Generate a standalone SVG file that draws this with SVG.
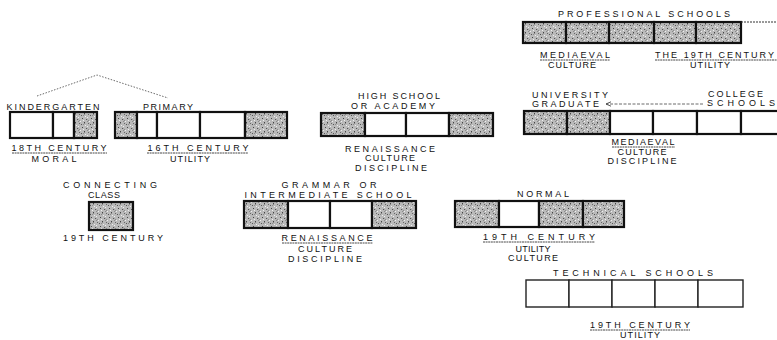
<svg xmlns="http://www.w3.org/2000/svg" width="777" height="340" viewBox="0 0 777 340">
<style>
text{font-family:"Liberation Sans",Arial,sans-serif;font-size:9px;fill:#111;text-anchor:middle}
.st{text-anchor:start}
.s{fill:url(#stip);stroke:#111;stroke-width:2.2}
.w{fill:#fff;stroke:#111;stroke-width:2.2}
.t{fill:#fff;stroke:#222;stroke-width:1.4}
.ul{stroke:#333;stroke-width:0.9;stroke-dasharray:2 0.6}
.dot{stroke:#444;stroke-width:0.8;stroke-dasharray:1.5 1.5;fill:none}
</style>
<defs>
<pattern id="stip" width="9" height="9" patternUnits="userSpaceOnUse">
<rect width="9" height="9" fill="#bababa"/>
<rect x="1" y="1" width="1" height="1" fill="#444"/>
<rect x="5" y="2" width="1.2" height="1" fill="#555"/>
<rect x="3" y="5" width="1" height="1.2" fill="#444"/>
<rect x="7" y="6" width="1" height="1" fill="#666"/>
<rect x="0" y="7" width="1" height="1" fill="#555"/>
<rect x="6" y="0" width="1" height="1" fill="#eee"/>
<rect x="2" y="3" width="1" height="1" fill="#eee"/>
<rect x="8" y="4" width="1" height="1" fill="#eee"/>
<rect x="4" y="8" width="1" height="1" fill="#eee"/>
<path d="M2 8 L4 6 M6 5 L8 3" stroke="#777" stroke-width="0.7"/>
</pattern>
<marker id="ah" markerWidth="6" markerHeight="6" refX="5" refY="3" orient="auto" markerUnits="userSpaceOnUse">
<path d="M0 0.8 L5 3 L0 5.2" fill="none" stroke="#444" stroke-width="0.9"/>
</marker>
</defs>

<g id="connectors">
<polyline class="dot" points="37,96 97,75 168,98"/>
<line x1="703" y1="104" x2="606" y2="104" stroke="#444" stroke-width="0.8" stroke-dasharray="3 1.5" marker-end="url(#ah)"/>
</g>

<g id="professional">
<text x="644" y="17" textLength="172" lengthAdjust="spacing">PROFESSIONAL SCHOOLS</text>
<rect class="s" x="523" y="22" width="43" height="21"/>
<rect class="s" x="566" y="22" width="43" height="21"/>
<rect class="s" x="609" y="22" width="45" height="21"/>
<rect class="s" x="654" y="22" width="42" height="21"/>
<rect class="s" x="696" y="22" width="45" height="21"/>
<line x1="741" y1="22" x2="777" y2="22" stroke="#333" stroke-width="1" stroke-dasharray="2 1"/>
<text x="575" y="58" textLength="70" lengthAdjust="spacing">MEDIAEVAL</text>
<line class="ul" x1="540" y1="60" x2="610" y2="60"/>
<text x="572" y="68" textLength="48" lengthAdjust="spacing">CULTURE</text>
<text class="st" x="655" y="58" textLength="119" lengthAdjust="spacing">THE 19TH CENTURY</text>
<line class="ul" x1="655" y1="60" x2="777" y2="60"/>
<text x="710" y="68" textLength="40" lengthAdjust="spacing">UTILITY</text>
</g>

<g id="kindergarten">
<text x="53" y="110" textLength="93" lengthAdjust="spacing">KINDERGARTEN</text>
<rect class="w" x="10" y="112" width="43" height="26"/>
<rect class="w" x="53" y="112" width="21" height="26"/>
<rect class="s" x="74" y="112" width="23" height="26"/>
<text x="59" y="151" textLength="95" lengthAdjust="spacing">18TH CENTURY</text>
<line class="ul" x1="12" y1="153" x2="107" y2="153"/>
<text x="54" y="162" textLength="45" lengthAdjust="spacing">MORAL</text>
</g>

<g id="primary">
<text x="168" y="110" textLength="50" lengthAdjust="spacing">PRIMARY</text>
<rect class="s" x="115" y="112" width="22" height="26"/>
<rect class="w" x="137" y="112" width="20" height="26"/>
<rect class="w" x="157" y="112" width="43" height="26"/>
<rect class="w" x="200" y="112" width="45" height="26"/>
<rect class="s" x="245" y="112" width="42" height="26"/>
<text x="198" y="151" textLength="101" lengthAdjust="spacing">16TH CENTURY</text>
<line class="ul" x1="147" y1="153" x2="248" y2="153"/>
<text x="190" y="162" textLength="40" lengthAdjust="spacing">UTILITY</text>
</g>

<g id="highschool">
<text x="399" y="99" textLength="82" lengthAdjust="spacing">HIGH SCHOOL</text>
<text x="393" y="109" textLength="84" lengthAdjust="spacing">OR ACADEMY</text>
<rect class="s" x="321" y="113" width="44" height="23"/>
<rect class="w" x="365" y="113" width="41" height="23"/>
<rect class="w" x="406" y="113" width="43" height="23"/>
<rect class="s" x="449" y="113" width="44" height="23"/>
<text x="390" y="152" textLength="90" lengthAdjust="spacing">RENAISSANCE</text>
<text x="390" y="161" textLength="50" lengthAdjust="spacing">CULTURE</text>
<text x="391" y="171" textLength="72" lengthAdjust="spacing">DISCIPLINE</text>
</g>

<g id="university">
<text class="st" x="532" y="98" textLength="76" lengthAdjust="spacing">UNIVERSITY</text>
<text class="st" x="532" y="107" textLength="67" lengthAdjust="spacing">GRADUATE</text>
<text class="st" x="708" y="97" textLength="55" lengthAdjust="spacing">COLLEGE</text>
<text class="st" x="707" y="106" textLength="68" lengthAdjust="spacing">SCHOOLS</text>
<rect class="s" x="524" y="111" width="43" height="23"/>
<rect class="s" x="567" y="111" width="43" height="23"/>
<rect class="w" x="610" y="111" width="43" height="23"/>
<rect class="w" x="653" y="111" width="44" height="23"/>
<rect class="w" x="697" y="111" width="44" height="23"/>
<rect class="w" x="741" y="111" width="50" height="23"/>
<text x="643" y="145" textLength="63" lengthAdjust="spacing">MEDIAEVAL</text>
<line class="ul" x1="612" y1="147" x2="675" y2="147"/>
<text x="642" y="155" textLength="49" lengthAdjust="spacing">CULTURE</text>
<text x="642" y="164" textLength="69" lengthAdjust="spacing">DISCIPLINE</text>
</g>

<g id="connecting">
<text x="110" y="188" textLength="94" lengthAdjust="spacing">CONNECTING</text>
<text x="104" y="198" textLength="32" lengthAdjust="spacing">CLASS</text>
<rect class="s" x="89" y="202" width="44" height="28"/>
<text x="113" y="241" textLength="100" lengthAdjust="spacing">19TH CENTURY</text>
</g>

<g id="grammar">
<text x="329" y="188" textLength="95" lengthAdjust="spacing">GRAMMAR OR</text>
<text x="328" y="198" textLength="167" lengthAdjust="spacing">INTERMEDIATE SCHOOL</text>
<rect class="s" x="244" y="201" width="44" height="27"/>
<rect class="w" x="288" y="201" width="42" height="27"/>
<rect class="w" x="330" y="201" width="42" height="27"/>
<rect class="s" x="372" y="201" width="44" height="27"/>
<text x="327" y="241" textLength="91" lengthAdjust="spacing">RENAISSANCE</text>
<line class="ul" x1="282" y1="243" x2="373" y2="243"/>
<text x="325" y="252" textLength="54" lengthAdjust="spacing">CULTURE</text>
<text x="325" y="262" textLength="74" lengthAdjust="spacing">DISCIPLINE</text>
</g>

<g id="normal">
<text x="543" y="197" textLength="52" lengthAdjust="spacing">NORMAL</text>
<rect class="s" x="455" y="201" width="44" height="26"/>
<rect class="w" x="499" y="201" width="40" height="26"/>
<rect class="s" x="539" y="201" width="44" height="26"/>
<rect class="s" x="583" y="201" width="41" height="26"/>
<text x="539" y="240" textLength="112" lengthAdjust="spacing">19TH CENTURY</text>
<line class="ul" x1="483" y1="242" x2="595" y2="242"/>
<text x="533" y="252" textLength="35" lengthAdjust="spacing">UTILITY</text>
<text x="533" y="261" textLength="50" lengthAdjust="spacing">CULTURE</text>
</g>

<g id="technical">
<text x="633" y="276" textLength="160" lengthAdjust="spacing">TECHNICAL SCHOOLS</text>
<rect class="t" x="526" y="280" width="43" height="27"/>
<rect class="t" x="569" y="280" width="43" height="27"/>
<rect class="t" x="612" y="280" width="43" height="27"/>
<rect class="t" x="655" y="280" width="43" height="27"/>
<rect class="t" x="698" y="280" width="45" height="27"/>
<text x="640" y="328" textLength="100" lengthAdjust="spacing">19TH CENTURY</text>
<line class="ul" x1="590" y1="330" x2="690" y2="330"/>
<text x="640" y="338" textLength="40" lengthAdjust="spacing">UTILITY</text>
</g>
</svg>
